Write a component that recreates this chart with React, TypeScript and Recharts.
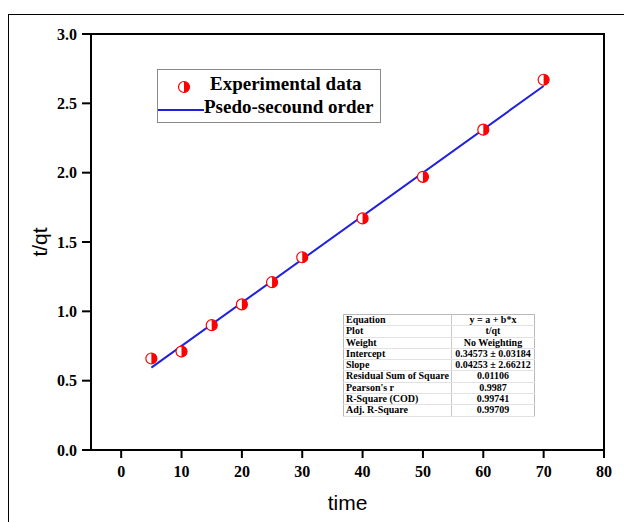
import { Label, ReferenceArea, Scatter, ScatterChart, XAxis, YAxis } from 'recharts'

// Measured t/qt against contact time
const TIME = [5, 10, 15, 20, 25, 30, 40, 50, 60, 70]
const T_QT = [0.66, 0.71, 0.9, 1.05, 1.21, 1.39, 1.67, 1.97, 2.31, 2.67]

// Endpoints of the pseudo-second-order fit line
const FIT_TIME = [5, 70]
const FIT_T_QT = [0.594, 2.625]

const X_TICKS = [0, 10, 20, 30, 40, 50, 60, 70, 80]
const Y_TICKS = [0, 0.5, 1, 1.5, 2, 2.5, 3]

const STATS_LABELS = [
  'Equation',
  'Plot',
  'Weight',
  'Intercept',
  'Slope',
  'Residual Sum of Square',
  "Pearson's r",
  'R-Square (COD)',
  'Adj. R-Square',
]
const STATS_VALUES = [
  'y = a + b*x',
  't/qt',
  'No Weighting',
  '0.34573 ± 0.03184',
  '0.04253 ± 2.66212',
  '0.01106',
  '0.9987',
  '0.99741',
  '0.99709',
]

const RED = '#ff0000'
const BLUE = '#2121dd'
const SERIF = '"Liberation Serif", "Times New Roman", serif'
const SANS = '"Liberation Sans", Arial, sans-serif'

const points = TIME.map((x, i) => ({ x, y: T_QT[i] }))
const fit = FIT_TIME.map((x, i) => ({ x, y: FIT_T_QT[i] }))

// Circle with the right half filled, the left half hollow
function HalfDot({ cx, cy }: { cx?: number; cy?: number }) {
  if (cx == null || cy == null) return <g />
  const r = 5.5
  return (
    <g>
      <circle cx={cx} cy={cy} r={r} fill="#fff" stroke={RED} strokeWidth={1.2} />
      <path d={`M${cx},${cy - r} A${r},${r} 0 0 1 ${cx},${cy + r} Z`} fill={RED} />
    </g>
  )
}

const NoDot = () => <g />

// Legend drawn as an overlay so it doesn't eat into the plot area
function LegendBox() {
  const text = { fontFamily: SERIF, fontWeight: 700, fontSize: 19, color: '#000' }
  return (
    <div
      style={{
        position: 'absolute',
        left: 157,
        top: 69,
        width: 222,
        height: 52,
        border: '1px solid #8a8a8a',
        background: '#fff',
      }}
    >
      <svg width={14} height={14} style={{ position: 'absolute', left: 19, top: 10 }}>
        <HalfDot cx={7} cy={7} />
      </svg>
      <div style={{ ...text, position: 'absolute', left: 52, top: 3, whiteSpace: 'nowrap' }}>
        Experimental data
      </div>
      <div
        style={{
          position: 'absolute',
          left: 0,
          top: 39,
          width: 46,
          height: 2,
          background: BLUE,
        }}
      />
      <div style={{ ...text, position: 'absolute', left: 46, top: 26, whiteSpace: 'nowrap' }}>
        Psedo-secound order
      </div>
    </div>
  )
}

function StatsTable() {
  const cell = {
    fontFamily: SERIF,
    fontWeight: 700,
    fontSize: 10,
    height: 10.3,
    lineHeight: '10.3px',
    padding: '0 2px',
    borderBottom: '1px solid #e2e2e2',
    whiteSpace: 'nowrap' as const,
  }
  return (
    <table
      style={{
        position: 'absolute',
        left: 343,
        top: 314,
        width: 192,
        borderCollapse: 'collapse',
        border: '1px solid #b8b8b8',
        background: '#fff',
        color: '#000',
      }}
    >
      <tbody>
        {STATS_LABELS.map((label, i) => (
          <tr key={label}>
            <td style={{ ...cell, width: 99, borderRight: '1px solid #c8c8c8' }}>{label}</td>
            <td style={{ ...cell, textAlign: 'center' }}>{STATS_VALUES[i]}</td>
          </tr>
        ))}
      </tbody>
    </table>
  )
}

function YTitle({ viewBox }: any) {
  const { x, y, height } = viewBox
  const cx = x + 8
  const cy = y + height / 2
  return (
    <text
      x={cx}
      y={cy}
      transform={`rotate(-90, ${cx}, ${cy})`}
      textAnchor="middle"
      dominantBaseline="central"
      fontFamily={SANS}
      fontSize={21}
      fill="#000"
    >
      t/qt
    </text>
  )
}

export default function App() {
  const tick = { fill: '#000', fontFamily: SERIF, fontWeight: 700, fontSize: 16 }
  return (
    <div
      style={{
        position: 'absolute',
        left: 0,
        top: 0,
        width: 624,
        height: 522,
        overflow: 'hidden',
        background: '#fff',
      }}
    >
      <div
        style={{
          position: 'absolute',
          left: 8,
          top: 14,
          width: 700,
          height: 600,
          border: '1.5px solid #000',
        }}
      />
      <ScatterChart
        width={624}
        height={522}
        margin={{ top: 34, right: 20, bottom: 10, left: 31 }}
        style={{ position: 'absolute', left: 0, top: 0 }}
      >
        <XAxis
          type="number"
          dataKey="x"
          domain={[-5, 80]}
          ticks={X_TICKS}
          interval={0}
          height={62}
          tick={tick}
          tickSize={8}
          tickMargin={8}
          tickLine={{ stroke: '#000', strokeWidth: 2 }}
          axisLine={{ stroke: '#000', strokeWidth: 2 }}
        >
          <Label
            value="time"
            position="insideBottom"
            offset={2}
            style={{ fontFamily: SANS, fontSize: 21, fill: '#000' }}
          />
        </XAxis>
        <YAxis
          type="number"
          dataKey="y"
          domain={[0, 3]}
          ticks={Y_TICKS}
          interval={0}
          width={60}
          tick={tick}
          tickFormatter={(v: number) => v.toFixed(1)}
          tickSize={9}
          tickMargin={5}
          tickLine={{ stroke: '#000', strokeWidth: 2 }}
          axisLine={{ stroke: '#000', strokeWidth: 2 }}
        >
          <Label content={YTitle} />
        </YAxis>
        <ReferenceArea
          x1={-5}
          x2={80}
          y1={0}
          y2={3}
          fill="none"
          stroke="#000"
          strokeWidth={2}
          ifOverflow="visible"
        />
        <Scatter
          name="Psedo-secound order"
          data={fit}
          line={{ stroke: BLUE, strokeWidth: 2 }}
          shape={NoDot}
          legendType="none"
          isAnimationActive={false}
        />
        <Scatter
          name="Experimental data"
          data={points}
          shape={HalfDot}
          isAnimationActive={false}
        />
      </ScatterChart>
      <LegendBox />
      <StatsTable />
    </div>
  )
}
